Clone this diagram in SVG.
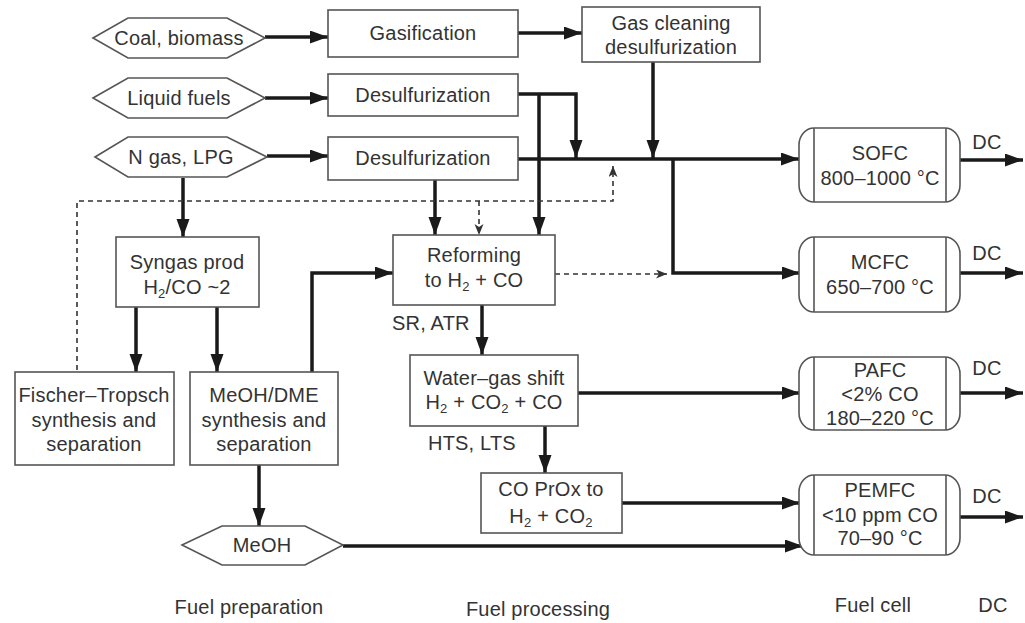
<svg xmlns="http://www.w3.org/2000/svg" width="1025" height="623" viewBox="0 0 1025 623">
<defs>
<style>
text{font-family:"Liberation Sans",Arial,sans-serif;font-size:20px;fill:#333;text-anchor:middle;letter-spacing:0.2px}
.sub{font-size:13px}
.box{fill:#fff;stroke:#555;stroke-width:1.6}
.ln{fill:none;stroke:#1a1a1a;stroke-width:3.5;marker-end:url(#ah)}
.dash{fill:none;stroke:#333;stroke-width:1.6;stroke-dasharray:5,4}
.lab{text-anchor:start}
</style>
<marker id="ah" markerUnits="userSpaceOnUse" markerWidth="20" markerHeight="14" refX="18" refY="6.5" orient="auto">
<path d="M0,0 L18,6.5 L0,13 z" fill="#1a1a1a"/>
</marker>
<marker id="ahd" markerUnits="userSpaceOnUse" markerWidth="12" markerHeight="10" refX="11" refY="4.5" orient="auto">
<path d="M0,0 L11,4.5 L0,9 L3,4.5 z" fill="#333"/>
</marker>
</defs>
<rect width="1025" height="623" fill="#fff"/>

<g id="connectors">
<path class="ln" d="M265,37 H328"/>
<path class="ln" d="M265,98 H328"/>
<path class="ln" d="M267,156 H328"/>
<path class="ln" d="M518,33 H582"/>
<path class="ln" d="M653,62 V158"/>
<path class="ln" d="M518,94 H576 V158"/>
<path class="ln" d="M539,94 V235"/>
<path class="ln" d="M518,159 H799"/>
<path class="ln" d="M673,159 V273 H800"/>
<path class="ln" d="M183,178 V237"/>
<path class="ln" d="M136,307 V372"/>
<path class="ln" d="M217,307 V372"/>
<path class="ln" d="M312,372 V273 H393"/>
<path class="ln" d="M435,180 V235"/>
<path class="dash" d="M77,370 V201 H613 V166" marker-end="url(#ahd)"/>
<path class="dash" d="M479,201 V235" marker-end="url(#ahd)"/>
<path class="dash" d="M555,274 H667" marker-end="url(#ahd)"/>
<path class="ln" d="M482,305 V355"/>
<path class="ln" d="M578,393 H800"/>
<path class="ln" d="M545,426 V473"/>
<path class="ln" d="M622,503 H800"/>
<path class="ln" d="M259,465 V526"/>
<path class="ln" d="M343,546 H803"/>
<path class="ln" d="M960,160 H1023"/>
<path class="ln" d="M960,273 H1023"/>
<path class="ln" d="M960,393 H1023"/>
<path class="ln" d="M960,517 H1023"/>
</g>

<g id="coal">
<polygon class="box" points="93,38 128,18 227,18 265,38 227,58 128,58"/>
<text x="179" y="45">Coal, biomass</text>
</g>
<g id="liquid">
<polygon class="box" points="93,98 128,78 227,78 265,98 227,118 128,118"/>
<text x="179" y="105">Liquid fuels</text>
</g>
<g id="ngas">
<polygon class="box" points="95,157 128,137 227,137 267,157 227,177 128,177"/>
<text x="181" y="164">N gas, LPG</text>
</g>
<g id="gasification">
<rect class="box" x="328" y="10" width="190" height="47"/>
<text x="423" y="40">Gasification</text>
</g>
<g id="desulf1">
<rect class="box" x="328" y="74" width="190" height="42"/>
<text x="423" y="102">Desulfurization</text>
</g>
<g id="desulf2">
<rect class="box" x="328" y="137" width="190" height="43"/>
<text x="423" y="165">Desulfurization</text>
</g>
<g id="gascleaning">
<rect class="box" x="582" y="7" width="178" height="55"/>
<text x="671" y="30">Gas cleaning</text>
<text x="671" y="54">desulfurization</text>
</g>
<g id="syngas">
<rect class="box" x="116" y="237" width="143" height="70"/>
<text x="187" y="269">Syngas prod</text>
<text x="187" y="294">H<tspan class="sub" dy="4">2</tspan><tspan dy="-4">/CO ~2</tspan></text>
</g>
<g id="fischer">
<rect class="box" x="15" y="372" width="159" height="93"/>
<text x="94" y="402">Fischer–Tropsch</text>
<text x="94" y="427">synthesis and</text>
<text x="94" y="451">separation</text>
</g>
<g id="meohdme">
<rect class="box" x="190" y="372" width="148" height="93"/>
<text x="264" y="402">MeOH/DME</text>
<text x="264" y="427">synthesis and</text>
<text x="264" y="451">separation</text>
</g>
<g id="reforming">
<rect class="box" x="393" y="235" width="162" height="70"/>
<text x="474" y="262">Reforming</text>
<text x="474" y="287">to H<tspan class="sub" dy="4">2</tspan><tspan dy="-4"> + CO</tspan></text>
</g>
<text class="lab" x="392" y="330">SR, ATR</text>
<g id="wgs">
<rect class="box" x="410" y="355" width="168" height="71"/>
<text x="494" y="385">Water–gas shift</text>
<text x="494" y="409">H<tspan class="sub" dy="4">2</tspan><tspan dy="-4"> + CO</tspan><tspan class="sub" dy="4">2</tspan><tspan dy="-4"> + CO</tspan></text>
</g>
<text class="lab" x="428" y="450">HTS, LTS</text>
<g id="prox">
<rect class="box" x="481" y="473" width="141" height="60"/>
<text x="551" y="496">CO PrOx to</text>
<text x="551" y="523">H<tspan class="sub" dy="4">2</tspan><tspan dy="-4"> + CO</tspan><tspan class="sub" dy="4">2</tspan></text>
</g>
<g id="meoh">
<polygon class="box" points="182,545 222,526 305,526 343,545 305,565 222,565"/>
<text x="262" y="552">MeOH</text>
</g>
<g id="sofc">
<rect class="box" x="799" y="128" width="161" height="74" rx="15" ry="17"/>
<path class="box" d="M814,128 V202 M946,128 V202"/>
<text x="880" y="160">SOFC</text>
<text x="880" y="185">800–1000 °C</text>
<text x="987" y="149">DC</text>
</g>
<g id="mcfc">
<rect class="box" x="799" y="237" width="161" height="75" rx="15" ry="17"/>
<path class="box" d="M814,237 V312 M946,237 V312"/>
<text x="880" y="269">MCFC</text>
<text x="880" y="294">650–700 °C</text>
<text x="987" y="260">DC</text>
</g>
<g id="pafc">
<rect class="box" x="799" y="357" width="161" height="73" rx="15" ry="17"/>
<path class="box" d="M814,357 V430 M946,357 V430"/>
<text x="880" y="377">PAFC</text>
<text x="880" y="401">&lt;2% CO</text>
<text x="880" y="425">180–220 °C</text>
<text x="987" y="375">DC</text>
</g>
<g id="pemfc">
<rect class="box" x="799" y="475" width="161" height="80" rx="15" ry="17"/>
<path class="box" d="M814,475 V555 M946,475 V555"/>
<text x="880" y="497">PEMFC</text>
<text x="880" y="522">&lt;10 ppm CO</text>
<text x="880" y="545">70–90 °C</text>
<text x="987" y="503">DC</text>
</g>
<g id="footer">
<text x="249" y="614">Fuel preparation</text>
<text x="538" y="616">Fuel processing</text>
<text x="873" y="612">Fuel cell</text>
<text x="993" y="612">DC</text>
</g>
</svg>
